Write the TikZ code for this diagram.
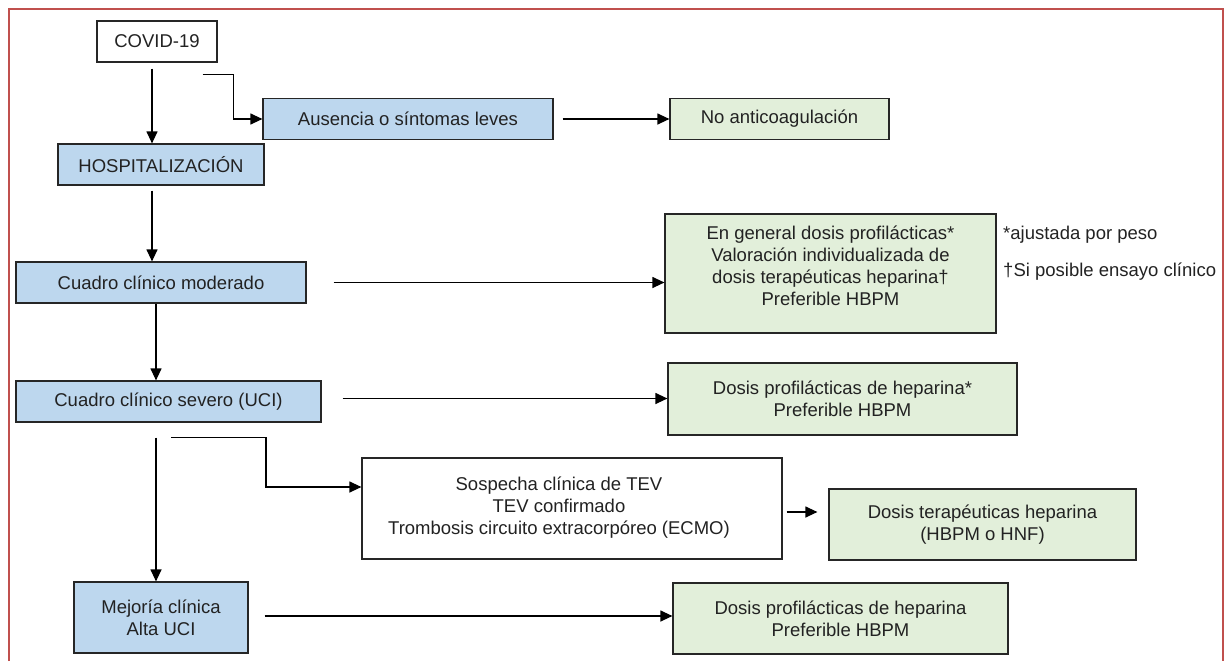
\documentclass[tikz,border=0pt]{standalone}
\usepackage{fontspec}
\setmainfont{Liberation Sans}
\usetikzlibrary{arrows.meta,calc}
\definecolor{bluefill}{HTML}{BDD7EE}
\definecolor{greenfill}{HTML}{E2EFDA}
\definecolor{framecol}{HTML}{C0504D}
\definecolor{edgecol}{HTML}{262626}
\definecolor{txtcol}{HTML}{222222}
\begin{document}
\begin{tikzpicture}[x=1pt,y=-1pt,
  boxbase/.style={draw=edgecol, line width=1.2pt, inner sep=0pt, align=center,
    font=\fontsize{18.5}{22}\selectfont, text=txtcol},
  whitebox/.style={boxbase, fill=white},
  bluebox/.style={boxbase, fill=bluefill},
  greenbox/.style={boxbase, fill=greenfill},
  txt/.style={inner sep=0pt, align=center, font=\fontsize{18.5}{22}\selectfont, text=txtcol},
  note/.style={inner sep=0pt, anchor=west, font=\fontsize{18.5}{22}\selectfont, text=txtcol},
  arr/.style={draw=black, line width=1.2pt, -{Triangle[length=12pt,width=11pt]}}
]
\useasboundingbox (0,0) rectangle (1225,661);
% outer frame
\draw[framecol, line width=1.5pt] (9,661) -- (9,9) -- (1223,9) -- (1223,661);

% boxes
\node[whitebox, minimum width=120pt, minimum height=41pt] (covid) at (157,41.5) {COVID-19};
\node[bluebox, minimum width=206pt, minimum height=41pt] (hosp) at (161,164.5) {HOSPITALIZACIÓN};
\node[bluebox, minimum width=290pt, minimum height=41pt] (aus) at (408,119) {Ausencia o síntomas leves};
\node[greenbox, minimum width=219pt, minimum height=41pt] (noac) at (779.5,119) {No anticoagulación};
\node[bluebox, minimum width=290pt, minimum height=41pt] (mod) at (161,282.5) {Cuadro clínico moderado};
\node[greenbox, minimum width=331pt, minimum height=119pt] (gbig) at (830.5,273.5) {};
\node[txt] (gbigt) at (830.5,266) {En general dosis profilácticas*\\Valoración individualizada de\\dosis terapéuticas heparina†\\Preferible HBPM};
\node[note] (n1) at (1003,235) {*ajustada por peso};
\node[note] (n2) at (1003,272) {†Si posible ensayo clínico};
\node[bluebox, minimum width=305pt, minimum height=41pt] (sev) at (168.5,401.5) {Cuadro clínico severo (UCI)};
\node[greenbox, minimum width=349pt, minimum height=72pt] (g2) at (842.5,399) {Dosis profilácticas de heparina*\\Preferible HBPM};
\node[whitebox, minimum width=420pt, minimum height=101pt] (tev) at (572,508.5) {};
\node[txt] (tevt) at (559,508) {Sospecha clínica de TEV\\TEV confirmado\\Trombosis circuito extracorpóreo (ECMO)};
\node[greenbox, minimum width=307pt, minimum height=71pt] (g3) at (982.5,524.5) {Dosis terapéuticas heparina\\(HBPM o HNF)};
\node[bluebox, minimum width=174pt, minimum height=71pt] (mej) at (161,617.5) {Mejoría clínica\\Alta UCI};
\node[greenbox, minimum width=335pt, minimum height=71pt] (g4) at (840.5,618.5) {Dosis profilácticas de heparina\\Preferible HBPM};

% connectors
\draw[arr] ($(covid.south)+(-5,6)$) -- ($(hosp.north)+(-9,0)$);
\draw[arr] ($(covid.south east)+(-15,12)$) -- ++(31,0) |- (aus.west);
\draw[arr] ($(aus.east)+(9,0)$) -- (noac.west);
\draw[arr] ($(hosp.south)+(-9,5)$) -- ($(mod.north)+(-9,0)$);
\draw[arr] ($(mod.south)+(-5,0)$) -- ($(sev.north)+(-12.5,0)$);
\draw[arr] ($(mod.east)+(27,0)$) -- (mod.east -| gbig.west);
\coordinate (s1) at ($(sev.east)+(21,-3)$);
\draw[arr] (s1) -- (s1 -| g2.west);
\draw[arr] ($(sev.south)+(-12.5,15)$) -- ($(mej.north)+(-5,0)$);
\draw[arr] ($(sev.south)+(2.5,15)$) -- ++(95,0) |- ($(tev.west)+(0,-21.5)$);
\coordinate (t1) at ($(tev.east)+(4,3.5)$);
\draw[arr] (t1) -- ($(t1 -| g3.west)+(-11,0)$);
\coordinate (m1) at ($(mej.east)+(16,-1.5)$);
\draw[arr] (m1) -- (m1 -| g4.west);
\end{tikzpicture}
\end{document}
